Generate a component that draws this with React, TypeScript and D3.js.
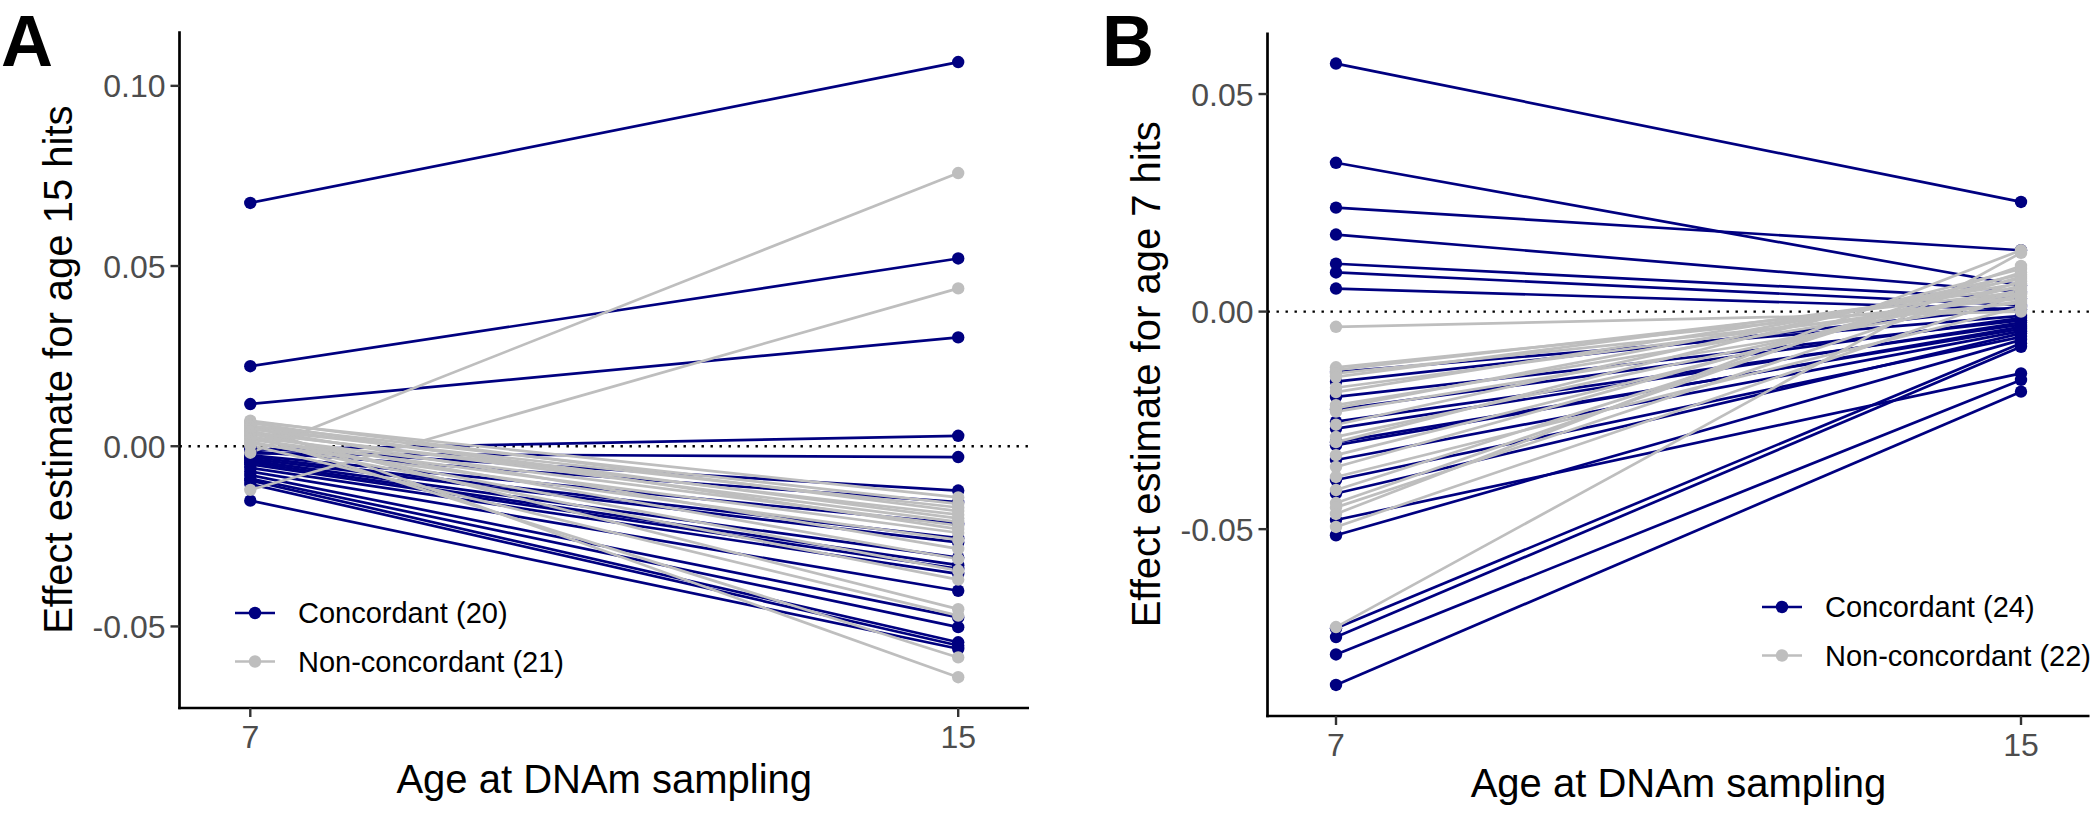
import React from 'react';
import * as d3 from 'd3';

// ---------- data ----------
const ages = [7, 15];

// Panel A: effect estimates for age 15 hits
const concA7 = [0.0675, 0.0222, 0.0117, -0.001, -0.002, -0.0005, -0.0015, -0.0025, -0.003, -0.0035, -0.004, -0.0045, -0.005, -0.006, -0.007, -0.008, -0.009, -0.0095, -0.0105, -0.0151];
const concA15 = [0.1066, 0.0521, 0.0302, 0.0029, -0.003, -0.0123, -0.0155, -0.0215, -0.0255, -0.0267, -0.0309, -0.033, -0.034, -0.0354, -0.0401, -0.0475, -0.0502, -0.0544, -0.0553, -0.0562];
const nonA7 = [-0.0018, -0.0121, 0.0071, 0.0068, 0.0065, 0.006, 0.0057, 0.0054, 0.005, 0.0047, 0.0044, 0.004, 0.0037, 0.0034, 0.003, 0.0026, 0.0022, 0.0018, 0.0013, 0.0008, 0.0003];
const nonA15 = [0.0758, 0.0438, -0.018, -0.0142, -0.023, -0.0641, -0.016, -0.02, -0.0285, -0.017, -0.0452, -0.021, -0.019, -0.0313, -0.0586, -0.022, -0.0345, -0.024, -0.037, -0.026, -0.047];

// Panel B: effect estimates for age 7 hits
const concB7 = [0.057, 0.0342, 0.0239, 0.0177, 0.011, 0.009, 0.0053, -0.0139, -0.0161, -0.0196, -0.0225, -0.0253, -0.0269, -0.03, -0.0307, -0.0341, -0.0387, -0.0418, -0.0479, -0.0514, -0.0728, -0.0748, -0.0788, -0.0858];
const concB15 = [0.0252, 0.006, 0.0141, 0.0045, 0.003, 0.0015, 0.0005, -0.001, 0.0011, -0.002, -0.0015, -0.003, -0.0025, -0.004, -0.0035, -0.0045, -0.0058, -0.005, -0.0142, -0.0065, -0.0073, -0.0081, -0.0157, -0.0184];
const nonB7 = [-0.0035, -0.0128, -0.0134, -0.0142, -0.015, -0.0175, -0.0185, -0.0215, -0.0222, -0.023, -0.026, -0.0288, -0.03, -0.033, -0.0357, -0.038, -0.041, -0.044, -0.045, -0.0465, -0.0495, -0.0725];
const nonB15 = [0.0, 0.003, 0.0045, 0.002, 0.0055, 0.0035, 0.0065, 0.0042, 0.0075, 0.0025, 0.0085, 0.005, 0.0098, 0.006, 0.008, 0.001, 0.009, 0.0105, 0.007, 0.0141, 0.004, 0.0135];

const yTicksA = [0.1, 0.05, 0.0, -0.05];
const yTicksB = [0.05, 0.0, -0.05];
const legendA = ['Concordant (20)', 'Non-concordant (21)'];
const legendB = ['Concordant (24)', 'Non-concordant (22)'];

const NAVY = '#000080';
const GREY = '#BEBEBE';
const FONT = '"Liberation Sans", Arial, Helvetica, sans-serif';
const LW = 2.7;
const PR = 6.2;

type PanelProps = {
  letter: string;
  yTitle: string;
  c7: number[]; c15: number[]; n7: number[]; n15: number[];
  yTicks: number[];
  legend: string[];
  left: number; right: number; top: number; bottom: number;
  letterX: number;
  legendX: number; legendY: number;
  titleY: number;
};

function Panel(p: PanelProps) {
  const x = d3.scaleLinear().domain([6.2, 15.8]).range([p.left, p.right]);
  const all = [...p.c7, ...p.c15, ...p.n7, ...p.n15];
  const [lo, hi] = d3.extent(all) as [number, number];
  const pad = (hi - lo) * 0.05;
  const y = d3.scaleLinear().domain([lo - pad, hi + pad]).range([p.bottom, p.top]);
  const line = d3.line<[number, number]>().x(d => x(d[0])).y(d => y(d[1]));
  const seg = (a: number[], b: number[]) => a.map((v, i) => [[ages[0], v], [ages[1], b[i]]] as [number, number][]);
  const blue = seg(p.c7, p.c15);
  const grey = seg(p.n7, p.n15);
  const midY = (p.top + p.bottom) / 2;
  const midX = (p.left + p.right) / 2;
  return (
    <g fontFamily={FONT}>
      <text x={p.letterX} y={66} fontSize={72} fontWeight="bold" fill="#000">{p.letter}</text>
      {/* zero reference */}
      <line x1={p.left} x2={p.right} y1={y(0)} y2={y(0)} stroke="#000" strokeWidth={2.4} strokeDasharray="2.4 6.6" />
      {blue.map((d, i) => <path key={'bl' + i} d={line(d) || ''} stroke={NAVY} strokeWidth={LW} fill="none" />)}
      {grey.map((d, i) => <path key={'gl' + i} d={line(d) || ''} stroke={GREY} strokeWidth={LW} fill="none" />)}
      {blue.map((d, i) => d.map((q, j) => <circle key={'bp' + i + '_' + j} cx={x(q[0])} cy={y(q[1])} r={PR} fill={NAVY} />))}
      {grey.map((d, i) => d.map((q, j) => <circle key={'gp' + i + '_' + j} cx={x(q[0])} cy={y(q[1])} r={PR} fill={GREY} />))}
      {/* axes */}
      <line x1={p.left} x2={p.left} y1={p.top} y2={p.bottom + 1.3} stroke="#000" strokeWidth={2.7} />
      <line x1={p.left - 1.3} x2={p.right} y1={p.bottom} y2={p.bottom} stroke="#000" strokeWidth={2.7} />
      {p.yTicks.map(t => (
        <g key={'yt' + t}>
          <line x1={p.left - 9} x2={p.left} y1={y(t)} y2={y(t)} stroke="#333" strokeWidth={2.4} />
          <text x={p.left - 14} y={y(t)} dy="0.36em" textAnchor="end" fontSize={32} fill="#4D4D4D">{t.toFixed(2)}</text>
        </g>
      ))}
      {ages.map(a => (
        <g key={'xt' + a}>
          <line x1={x(a)} x2={x(a)} y1={p.bottom} y2={p.bottom + 9} stroke="#333" strokeWidth={2.4} />
          <text x={x(a)} y={p.bottom + 40} textAnchor="middle" fontSize={32} fill="#4D4D4D">{a}</text>
        </g>
      ))}
      <text x={midX} y={p.titleY} textAnchor="middle" fontSize={40} fill="#000">Age at DNAm sampling</text>
      <text transform={`translate(${p.left - 108},${midY}) rotate(-90)`} textAnchor="middle" fontSize={40} fill="#000">{p.yTitle}</text>
      {/* legend */}
      {p.legend.map((lab, i) => {
        const ly = p.legendY + i * 48.5;
        const col = i === 0 ? NAVY : GREY;
        return (
          <g key={'lg' + i}>
            <line x1={p.legendX - 20} x2={p.legendX + 20} y1={ly} y2={ly} stroke={col} strokeWidth={LW} />
            <circle cx={p.legendX} cy={ly} r={PR} fill={col} />
            <text x={p.legendX + 43} y={ly} dy="0.36em" fontSize={29} fill="#000">{lab}</text>
          </g>
        );
      })}
    </g>
  );
}

export default function App() {
  return (
    <svg width={2100} height={818} style={{ position: 'absolute', left: 0, top: 0, background: '#fff' }}>
      <rect x={0} y={0} width={2100} height={818} fill="#fff" />
      <Panel letter="A" yTitle="Effect estimate for age 15 hits"
        c7={concA7} c15={concA15} n7={nonA7} n15={nonA15}
        yTicks={yTicksA} legend={legendA}
        left={179.5} right={1029} top={31.3} bottom={708}
        letterX={1} legendX={255} legendY={613} titleY={793} />
      <Panel letter="B" yTitle="Effect estimate for age 7 hits"
        c7={concB7} c15={concB15} n7={nonB7} n15={nonB15}
        yTicks={yTicksB} legend={legendB}
        left={1267.5} right={2089.5} top={32.5} bottom={716}
        letterX={1102} legendX={1782} legendY={607} titleY={797} />
    </svg>
  );
}
